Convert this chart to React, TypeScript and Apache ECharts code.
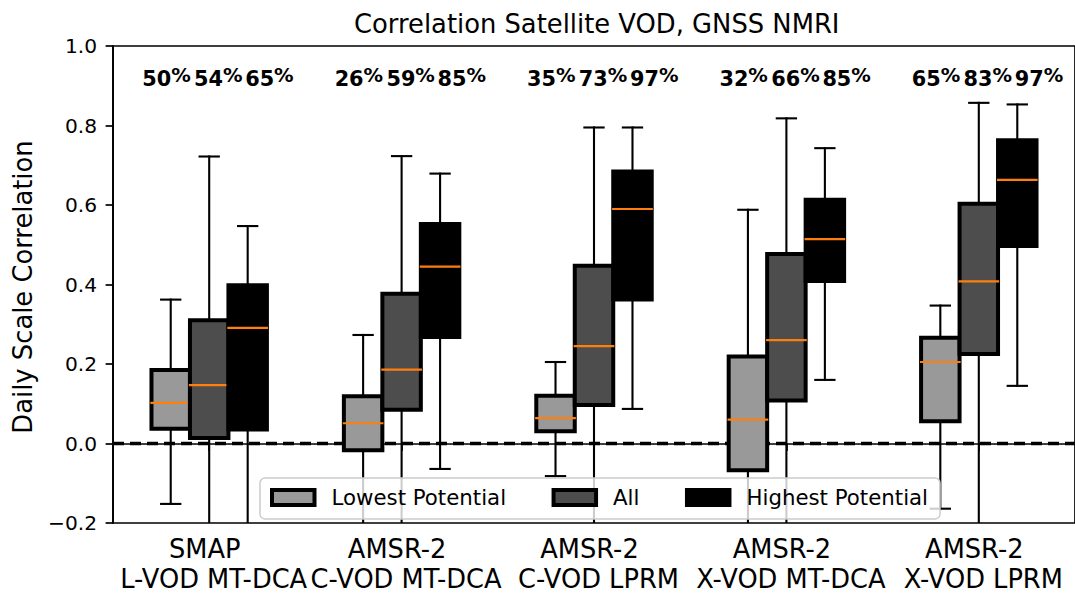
import React, { useEffect, useRef } from 'react';
import * as echarts from 'echarts';

const FONT = "'DejaVu Sans', sans-serif";

const TITLE = 'Correlation Satellite VOD, GNSS NMRI';
const Y_NAME = 'Daily Scale Correlation';

const categories = [
  'SMAP\nL-VOD MT-DCA',
  'AMSR-2\nC-VOD MT-DCA',
  'AMSR-2\nC-VOD LPRM',
  'AMSR-2\nX-VOD MT-DCA',
  'AMSR-2\nX-VOD LPRM',
];

const seriesNames = ['Lowest Potential', 'All', 'Highest Potential'];

// [min, q1, median, q3, max]
const lowestBoxes = [
  [-0.152, 0.037, 0.102, 0.185, 0.362],
  [-0.25, -0.017, 0.051, 0.119, 0.273],
  [-0.082, 0.031, 0.064, 0.12, 0.205],
  [-0.42, -0.067, 0.06, 0.219, 0.588],
  [-0.164, 0.056, 0.205, 0.266, 0.347],
];
const allBoxes = [
  [-0.45, 0.014, 0.147, 0.31, 0.722],
  [-0.4, 0.085, 0.186, 0.377, 0.723],
  [-0.35, 0.097, 0.245, 0.447, 0.795],
  [-0.38, 0.108, 0.26, 0.477, 0.818],
  [-0.36, 0.225, 0.408, 0.603, 0.857],
];
const highestBoxes = [
  [-0.3, 0.035, 0.291, 0.398, 0.547],
  [-0.064, 0.268, 0.445, 0.552, 0.679],
  [0.087, 0.362, 0.59, 0.684, 0.795],
  [0.16, 0.409, 0.514, 0.613, 0.743],
  [0.145, 0.497, 0.663, 0.763, 0.853],
];

const lowestPct = [50, 26, 35, 32, 65];
const allPct = [54, 59, 73, 66, 83];
const highestPct = [65, 85, 97, 85, 97];

const yTicks = [-0.2, 0.0, 0.2, 0.4, 0.6, 0.8, 1.0];
const zeroLine = [0];
const pctLabelY = 0.922;

const fills = ['#999999', '#4d4d4d', '#000000'];
const offsets = [-0.2, 0, 0.2];
const labelOffsets = [-0.222, 0.047, 0.313];
const BOX_W = 0.2;
const CAP_W = 0.1;

function boxRenderer(offset: number, fill: string) {
  return (params: any, api: any) => {
    const cat = api.value(0);
    const band = api.size([1, 0])[0];
    const cx = api.coord([cat, 0])[0] + offset * band;
    const hw = (BOX_W * band) / 2;
    const cw = (CAP_W * band) / 2;
    const ys = [1, 2, 3, 4, 5].map((i) => api.coord([cat, api.value(i)])[1]);
    const [yMin, yQ1, yMed, yQ3, yMax] = ys;
    const ws = { stroke: '#000', lineWidth: 2.1, lineCap: 'square' };
    return {
      type: 'group',
      children: [
        {
          type: 'rect',
          shape: { x: cx - hw, y: yQ3, width: 2 * hw, height: yQ1 - yQ3 },
          style: { fill, stroke: '#000', lineWidth: 4 },
        },
        { type: 'line', shape: { x1: cx, y1: yQ1 + 2, x2: cx, y2: yMin }, style: ws },
        { type: 'line', shape: { x1: cx, y1: yQ3 - 2, x2: cx, y2: yMax }, style: ws },
        { type: 'line', shape: { x1: cx - cw, y1: yMin, x2: cx + cw, y2: yMin }, style: ws },
        { type: 'line', shape: { x1: cx - cw, y1: yMax, x2: cx + cw, y2: yMax }, style: ws },
        {
          type: 'line',
          shape: { x1: cx - hw, y1: yMed, x2: cx + hw, y2: yMed },
          style: { stroke: '#ff7f0e', lineWidth: 2.2, lineCap: 'square' },
        },
      ],
    };
  };
}

function fmtTick(v: number): string {
  if (Math.abs(v) < 1e-9) return '0.0';
  return (v < 0 ? '\u2212' : '') + Math.abs(v).toFixed(1);
}

export default function App() {
  const ref = useRef<HTMLDivElement>(null);

  useEffect(() => {
    if (!ref.current) return;
    const chart = echarts.init(ref.current, undefined, { renderer: 'svg' });

    const boxSets = [lowestBoxes, allBoxes, highestBoxes];
    const boxSeries = boxSets.map((set, s) => ({
      type: 'custom',
      name: seriesNames[s],
      z: 2,
      clip: true,
      itemStyle: { color: fills[s] },
      renderItem: boxRenderer(offsets[s], fills[s]),
      encode: { x: 0, y: [1, 2, 3, 4, 5] },
      data: set.map((b, i) => [i, ...b]),
    }));

    const pctRows = categories.map((_, i) => [i, lowestPct[i], allPct[i], highestPct[i]]);

    const option: any = {
      animation: false,
      grid: {
        left: 113,
        top: 46,
        width: 967.5,
        height: 481,
        show: true,
        borderColor: '#000',
        borderWidth: 1.7,
        backgroundColor: 'transparent',
      },
      xAxis: {
        type: 'category',
        data: categories,
        boundaryGap: true,
        axisLine: { show: true, lineStyle: { color: '#000', width: 1.7 } },
        axisTick: { show: true, alignWithLabel: true, length: 7.4, lineStyle: { color: '#000', width: 1.7 } },
        axisLabel: {
          interval: 0,
          margin: 11,
          color: '#000',
          fontSize: 25.7,
          fontFamily: FONT,
          lineHeight: 30,
          formatter: (val: string) => {
            const [l1, l2] = val.split('\n');
            return `{a|${l1}}\n{b|${l2}}`;
          },
          rich: {
            a: { fontSize: 25.7, fontFamily: FONT, color: '#000', lineHeight: 30, padding: [0, 9, 0, 0] },
            b: { fontSize: 25.7, fontFamily: FONT, color: '#000', lineHeight: 30, padding: [0, 0, 0, 9] },
          },
        },
        splitLine: { show: false },
      },
      yAxis: {
        type: 'value',
        min: yTicks[0],
        max: yTicks[yTicks.length - 1],
        interval: 0.2,
        axisLine: { show: true, lineStyle: { color: '#000', width: 1.7 } },
        axisTick: { show: true, length: 7.4, lineStyle: { color: '#000', width: 1.7 } },
        axisLabel: { margin: 16, color: '#000', fontSize: 20.2, fontFamily: FONT, formatter: fmtTick },
        splitLine: { show: false },
      },
      legend: {
        left: 260,
        top: 478,
        orient: 'horizontal',
        padding: [9, 12, 11, 10],
        itemWidth: 42.5,
        itemHeight: 14.9,
        itemGap: 45.5,
        selectedMode: false,
        backgroundColor: 'rgba(255,255,255,0.8)',
        borderColor: '#cccccc',
        borderWidth: 1.5,
        borderRadius: 5,
        textStyle: { color: '#000', fontSize: 21.3, fontFamily: FONT, lineHeight: 18, padding: [0, 0, 0, 12] },
        data: seriesNames.map((n, s) => ({
          name: n,
          icon: 'rect',
          itemStyle: { color: fills[s], borderColor: '#000', borderWidth: 4 },
        })),
      },
      graphic: [
        {
          type: 'text',
          x: 596.75,
          y: 23.5,
          z: 10,
          style: {
            text: TITLE,
            fontSize: 25.8,
            fontFamily: FONT,
            fill: '#000',
            align: 'center',
            verticalAlign: 'middle',
          },
        },
        {
          type: 'text',
          x: 23,
          y: 287,
          rotation: Math.PI / 2,
          z: 10,
          style: {
            text: Y_NAME,
            fontSize: 25.8,
            fontFamily: FONT,
            fill: '#000',
            align: 'center',
            verticalAlign: 'middle',
          },
        },
      ],
      series: [
        {
          type: 'custom',
          name: 'zero',
          z: 1,
          clip: false,
          encode: { x: 0, y: 1 },
          data: zeroLine.map((v) => [0, v]),
          renderItem: (params: any, api: any) => {
            const cs = params.coordSys;
            const y = api.coord([0, api.value(1)])[1];
            return {
              type: 'line',
              shape: { x1: cs.x, y1: y, x2: cs.x + cs.width, y2: y },
              style: { stroke: '#000', lineWidth: 3.3, lineDash: [11, 6] },
            };
          },
        },
        ...boxSeries,
        {
          type: 'custom',
          name: 'pct',
          z: 3,
          clip: false,
          encode: { x: 0, y: 1 },
          data: pctRows,
          renderItem: (params: any, api: any) => {
            const cat = api.value(0);
            const band = api.size([1, 0])[0];
            const base = api.coord([cat, pctLabelY]);
            const children = [1, 2, 3].map((k, j) => ({
              type: 'text',
              x: base[0] + labelOffsets[j] * band,
              y: base[1],
              style: {
                text: `{d|${api.value(k)}}{p|%}`,
                align: 'center',
                verticalAlign: 'middle',
                fill: '#000',
                rich: {
                  d: { fontSize: 20.8, fontWeight: 'bold', fontFamily: FONT, fill: '#000', lineHeight: 24, verticalAlign: 'bottom' },
                  p: { fontSize: 19.5, fontWeight: 'bold', fontFamily: FONT, fill: '#000', lineHeight: 18, verticalAlign: 'top' },
                },
              },
            }));
            return { type: 'group', children };
          },
        },
      ],
    };

    chart.setOption(option);
    return () => chart.dispose();
  }, []);

  return (
    <div
      ref={ref}
      style={{ position: 'absolute', left: 0, top: 0, width: 1075, height: 594, background: '#fff' }}
    />
  );
}
